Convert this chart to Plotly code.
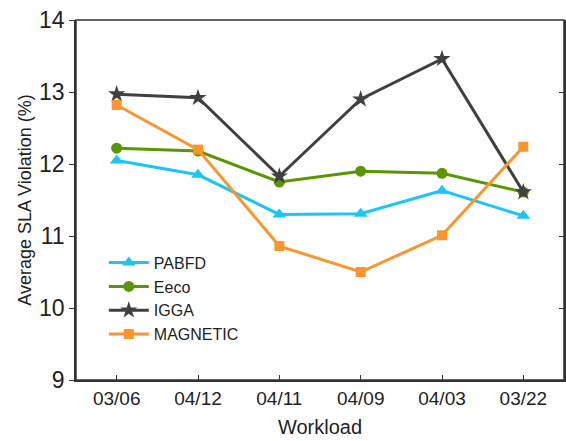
import plotly.graph_objects as go

workloads = ["03/06", "04/12", "04/11", "04/09", "04/03", "03/22"]
pabfd = [12.05, 11.85, 11.30, 11.31, 11.63, 11.28]
eeco = [12.22, 12.18, 11.75, 11.90, 11.87, 11.61]
igga = [12.97, 12.92, 11.83, 12.90, 13.46, 11.61]
magnetic = [12.82, 12.20, 10.86, 10.50, 11.01, 12.24]
y_ticks = [9, 10, 11, 12, 13, 14]

FONT = "Liberation Sans, Arial, sans-serif"

series = [
    ("PABFD", pabfd, "#1BC4F9", "triangle-up", 12),
    ("Eeco", eeco, "#5A9600", "circle", 11),
    ("IGGA", igga, "#404040", "star", 13),
    ("MAGNETIC", magnetic, "#FA952F", "square", 10),
]

fig = go.Figure()
for name, vals, color, sym, size in series:
    fig.add_trace(go.Scatter(
        x=workloads, y=vals, name=name, mode="lines+markers",
        line=dict(color=color, width=3),
        marker=dict(symbol=sym, size=size, color=color),
    ))

# invisible trace on right axis for inward mirrored ticks
fig.add_trace(go.Scatter(x=workloads, y=pabfd, yaxis="y2", showlegend=False,
                         mode="markers", marker=dict(opacity=0), hoverinfo="skip"))

fig.update_layout(
    width=566, height=441,
    margin=dict(l=76, r=2, t=20, b=61, autoexpand=False),
    paper_bgcolor="white", plot_bgcolor="white",
    font=dict(family=FONT, color="#222"),
    showlegend=True,
    legend=dict(x=0.057, y=0.373, xanchor="left", yanchor="top",
                bgcolor="rgba(0,0,0,0)", font=dict(size=16, family=FONT),
                tracegroupgap=0, itemwidth=40),
    xaxis=dict(
        type="category", range=[-0.5, 5.5], automargin=False,
        showline=True, linecolor="#333", linewidth=1.5, mirror=False,
        ticks="inside", ticklen=5, tickcolor="#333",
        tickfont=dict(size=19, family=FONT),
        title=dict(text="Workload", font=dict(size=20, family=FONT), standoff=12),
        showgrid=False, zeroline=False,
    ),
    yaxis=dict(
        range=[9, 14], tickvals=y_ticks, automargin=False,
        showline=True, linecolor="#333", linewidth=1.5, mirror=False,
        ticks="outside", ticklen=5, tickcolor="#333",
        ticklabeloverflow="allow",
        tickfont=dict(size=23, family=FONT),
        title=dict(text="Average SLA Violation (%)", font=dict(size=18, family=FONT), standoff=3),
        showgrid=False, zeroline=False,
    ),
    yaxis2=dict(
        range=[9, 14], tickvals=y_ticks, overlaying="y", side="right",
        showticklabels=False, ticks="inside", ticklen=5, tickcolor="#333",
        showline=True, linecolor="#333", linewidth=1.5,
        showgrid=False, zeroline=False, automargin=False,
    ),
    shapes=[dict(type="rect", xref="paper", yref="paper", x0=0, x1=1, y0=0, y1=1,
                 line=dict(color="#333", width=1.5), layer="above")],
)

fig.write_html("out.html", config={"displayModeBar": False},
               post_script="document.body.style.margin='0';document.body.style.overflow='hidden';")
